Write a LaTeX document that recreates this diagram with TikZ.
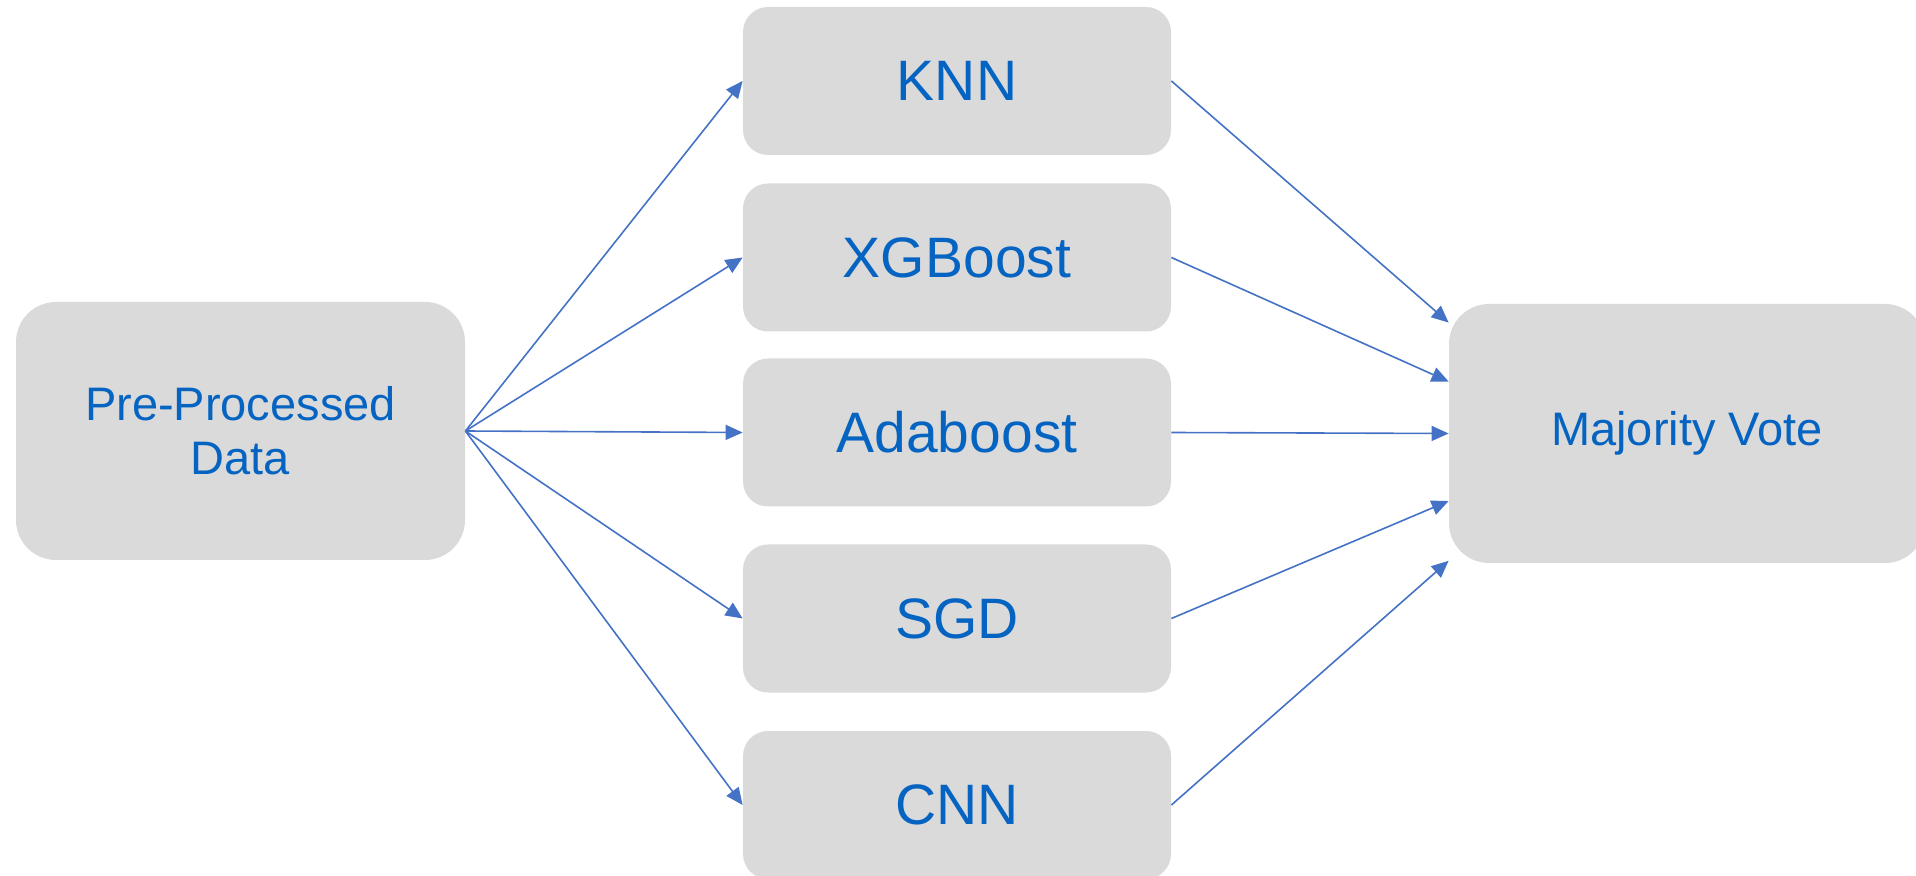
\documentclass[tikz,border=0pt]{standalone}
\usepackage{fontspec}
\setmainfont{Liberation Sans}
\usetikzlibrary{arrows.meta,calc}
\definecolor{boxgray}{HTML}{DADADA}
\definecolor{labelblue}{HTML}{0563C1}
\definecolor{linkblue}{HTML}{4472C4}
\tikzset{
  bigbox/.style={fill=boxgray, rounded corners=20pt, inner sep=0pt,
    text=labelblue, align=center, font=\fontsize{23.5}{27}\selectfont},
  modelbox/.style={fill=boxgray, rounded corners=12.5pt, inner sep=0pt,
    minimum width=214pt, minimum height=74pt,
    text=labelblue, font=\fontsize{28.5}{32}\selectfont},
  link/.style={draw=linkblue, line width=0.8pt,
    -{Triangle[length=8.5pt,width=7.5pt]}}
}
\begin{document}
\begin{tikzpicture}[x=0.5pt, y=-0.5pt]
  \useasboundingbox (0,0) rectangle (1916,876);
  \begin{scope}
    \clip (0,0) rectangle (1916,876);
    % input and output blocks
    \node[bigbox, minimum width=224.5pt, minimum height=129pt] (pre) at (240.5,431) {Pre-Processed\\Data};
    \node[bigbox, minimum width=238pt, minimum height=129.5pt] (mv) at (1687,433.5) {Majority Vote};
    % classifiers
    \node[modelbox] (knn) at (957,81)    {KNN};
    \node[modelbox] (xgb) at (957,257.5) {XGBoost};
    \node[modelbox] (ada) at (957,432.5) {Adaboost};
    \node[modelbox] (sgd) at (957,618.5) {SGD};
    \node[modelbox] (cnn) at (957,805)   {CNN};
  \end{scope}
  % entry points on the voting block
  \coordinate (in1) at ($(mv.north west)!0.073!(mv.south west)$);
  \coordinate (in2) at ($(mv.north west)!0.30!(mv.south west)$);
  \coordinate (in3) at ($(mv.north west)!0.50!(mv.south west)$);
  \coordinate (in4) at ($(mv.north west)!0.76!(mv.south west)$);
  \coordinate (in5) at ($(mv.north west)!0.99!(mv.south west)$);
  % data to each classifier
  \foreach \m in {knn,xgb,ada,sgd,cnn}
    \draw[link] (pre.east) -- (\m.west);
  % classifiers to the vote
  \draw[link] (knn.east) -- (in1);
  \draw[link] (xgb.east) -- (in2);
  \draw[link] (ada.east) -- (in3);
  \draw[link] (sgd.east) -- (in4);
  \draw[link] (cnn.east) -- (in5);
\end{tikzpicture}
\end{document}
